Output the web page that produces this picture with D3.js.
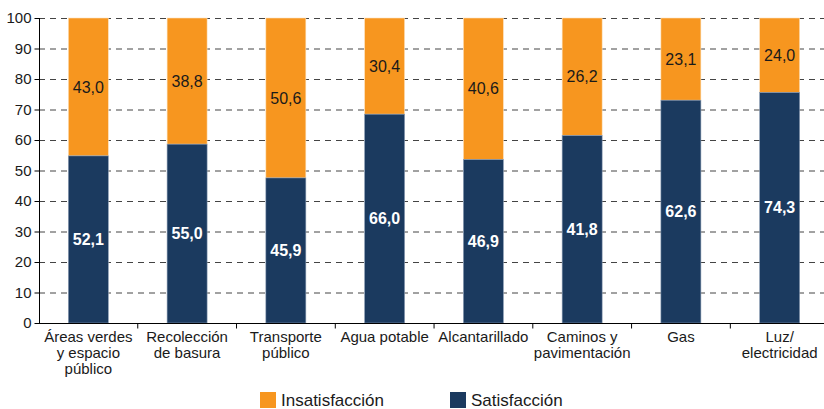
<!DOCTYPE html>
<html><head><meta charset="utf-8">
<script src="https://cdn.jsdelivr.net/npm/d3@7"></script>
<style>
html,body{margin:0;padding:0;background:#fff;}
svg{display:block;font-family:"Liberation Sans",Arial,sans-serif;}
</style></head>
<body><svg id="chart" width="824" height="409"></svg>
<script>
const categories = ["Áreas verdes|y espacio|público","Recolección|de basura","Transporte|público","Agua potable","Alcantarillado","Caminos y|pavimentación","Gas","Luz/|electricidad"];
const satisfaccion = [52.1,55.0,45.9,66.0,46.9,41.8,62.6,74.3];
const insatisfaccion = [43.0,38.8,50.6,30.4,40.6,26.2,23.1,24.0];
const yTicks = [0,10,20,30,40,50,60,70,80,90,100];
const seriesNames = ["Insatisfacción","Satisfacción"];
const colors = {sat:"#1b3a5f", ins:"#f7961f"};

const svg = d3.select("#chart");
const x = d3.scaleBand().domain(categories).range([39,829]).paddingInner(0.595).paddingOuter(0.297);
const y = d3.scaleLinear().domain([0,100]).range([323,18]);

// grid
svg.append("g").selectAll("line").data(yTicks.filter(d=>d>0)).join("line")
  .attr("x1",39).attr("x2",824).attr("y1",d=>y(d)+0.5).attr("y2",d=>y(d)+0.5)
  .attr("stroke","#444").attr("stroke-width",1).attr("stroke-dasharray","6,5");

const data = categories.map((c,i)=>{
  const tot = satisfaccion[i]+insatisfaccion[i];
  const s = satisfaccion[i]/tot*100;
  return {c, sat:satisfaccion[i], ins:insatisfaccion[i], s0:0, s1:s, i0:s, i1:100};
});

const bars = svg.append("g");
bars.selectAll("rect.ins").data(data).join("rect").attr("class","ins")
  .attr("x",d=>x(d.c)).attr("width",x.bandwidth())
  .attr("y",d=>y(d.i1)).attr("height",d=>y(d.i0)-y(d.i1))
  .attr("fill",colors.ins).attr("stroke","#fde2bd").attr("stroke-width",0.6);
bars.selectAll("rect.sat").data(data).join("rect").attr("class","sat")
  .attr("x",d=>x(d.c)).attr("width",x.bandwidth())
  .attr("y",d=>y(d.s1)).attr("height",d=>y(d.s0)-y(d.s1))
  .attr("fill",colors.sat).attr("stroke","#8a9cb3").attr("stroke-width",0.6);

const fmt = v => v.toFixed(1).replace(".",",");
svg.append("g").selectAll("text").data(data).join("text")
  .attr("x",d=>x(d.c)+x.bandwidth()/2).attr("y",d=>y((d.i0+d.i1)/2))
  .attr("dy","0.35em").attr("text-anchor","middle").attr("font-size",16)
  .attr("fill","#1a1a1a").text(d=>fmt(d.ins));
svg.append("g").selectAll("text").data(data).join("text")
  .attr("x",d=>x(d.c)+x.bandwidth()/2).attr("y",d=>y((d.s0+d.s1)/2))
  .attr("dy","0.35em").attr("text-anchor","middle").attr("font-size",16)
  .attr("font-weight","bold").attr("fill","#fff").text(d=>fmt(d.sat));

// y axis
const yAxis = svg.append("g").attr("transform","translate(39.5,0)")
  .call(d3.axisLeft(y).tickValues(yTicks).tickSize(5).tickPadding(3).tickFormat(d3.format("d")));
yAxis.select(".domain").attr("stroke","#000").attr("d","M0,18V323.5");
yAxis.selectAll(".tick line").attr("stroke","#000");
yAxis.selectAll("text").attr("font-size",15).attr("fill","#1a1a1a").attr("font-family","Liberation Sans, Arial, sans-serif");

// x axis
const xa = svg.append("g").attr("transform","translate(0,323.5)");
xa.append("line").attr("x1",39).attr("x2",829).attr("stroke","#000");
const step = x.step();
xa.selectAll("line.t").data(d3.range(1,categories.length+1)).join("line").attr("class","t")
  .attr("x1",d=>39+d*step).attr("x2",d=>39+d*step).attr("y1",0).attr("y2",5).attr("stroke","#000");
const lab = xa.selectAll("text").data(categories).join("text")
  .attr("text-anchor","middle").attr("font-size",15).attr("fill","#1a1a1a")
  .attr("transform",d=>`translate(${x(d)+x.bandwidth()/2},18.5)`);
lab.selectAll("tspan").data(d=>d.split("|")).join("tspan")
  .attr("x",0).attr("dy",(d,i)=>i===0?0:16).text(d=>d);

// legend
const leg = svg.append("g");
const legItems = [{n:seriesNames[0],c:colors.ins,x:260},{n:seriesNames[1],c:colors.sat,x:450}];
leg.selectAll("rect").data(legItems).join("rect")
  .attr("x",d=>d.x).attr("y",392).attr("width",16).attr("height",16).attr("fill",d=>d.c);
leg.selectAll("text").data(legItems).join("text")
  .attr("x",d=>d.x+21).attr("y",406).attr("font-size",17).attr("fill","#1a1a1a").text(d=>d.n);
</script></body></html>
